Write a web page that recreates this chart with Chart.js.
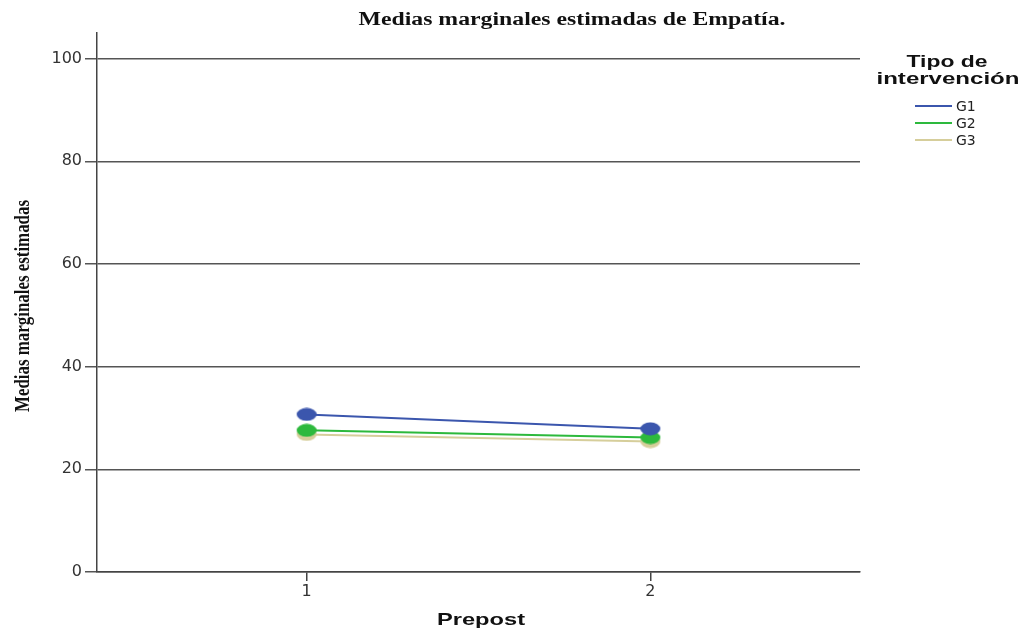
<!DOCTYPE html>
<html>
<head>
<meta charset="utf-8">
<script src="https://cdn.jsdelivr.net/npm/chart.js@4/dist/chart.umd.min.js"></script>
<style>
  html, body { margin: 0; padding: 0; background: #fff; }
  canvas { display: block; }
</style>
</head>
<body>
<canvas id="chart" width="1024" height="629"></canvas>
<script>
// data
const categories = [1, 2];
const xTickLabels = ['1', '2'];
const yTicks = [0, 20, 40, 60, 80, 100];
const seriesNames = ['G1', 'G2', 'G3'];
const g1Values = [30.7, 27.9];
const g2Values = [27.6, 26.2];
const g3Values = [26.8, 25.4];

const chartTitle = 'Medias marginales estimadas de Empatía.';
const yTitle = 'Medias marginales estimadas';
const xTitle = 'Prepost';
const legendTitle = ['Tipo de', 'intervención'];

const colors = ['#3b56ad', '#2db93d', '#d6ce9b'];

// the original points are squashed ellipses
function ellipse(color) {
    const c = document.createElement('canvas');
    c.width = 22;
    c.height = 14;
    const ctx = c.getContext('2d');
    ctx.fillStyle = color;
    ctx.beginPath();
    ctx.ellipse(11, 7, 10, 6.5, 0, 0, Math.PI * 2);
    ctx.fill();
    return c;
}

// draw text stretched to a given width
function fitText(ctx, text, cx, cy, width, font, rotate) {
    ctx.save();
    ctx.font = font;
    ctx.fillStyle = '#111';
    ctx.textAlign = 'center';
    ctx.textBaseline = 'middle';
    const w = ctx.measureText(text).width;
    ctx.translate(cx, cy);
    if (rotate) ctx.rotate(-Math.PI / 2);
    ctx.scale(width / w, 1);
    ctx.fillText(text, 0, 0);
    ctx.restore();
}

const textPlugin = {
    id: 'texts',
    afterDraw(chart) {
        const ctx = chart.ctx;
        fitText(ctx, chartTitle, 572, 20, 427, 'bold 18px "Liberation Serif"');
        fitText(ctx, yTitle, 24, 306, 212, 'bold 20px "Liberation Serif"', true);
        fitText(ctx, xTitle, 481, 620, 88, 'bold 17px "Liberation Sans"');
        fitText(ctx, legendTitle[0], 947, 62, 81, 'bold 17px "Liberation Sans"');
        fitText(ctx, legendTitle[1], 948, 79, 143, 'bold 17px "Liberation Sans"');

        // legend entries
        chart.data.datasets.forEach((ds, i) => {
            const y = 106 + i * 17;
            ctx.save();
            ctx.strokeStyle = ds.borderColor;
            ctx.lineWidth = 2;
            ctx.beginPath();
            ctx.moveTo(915, y);
            ctx.lineTo(952, y);
            ctx.stroke();
            ctx.font = '14px "DejaVu Sans"';
            ctx.fillStyle = '#222';
            ctx.textBaseline = 'middle';
            ctx.fillText(ds.label, 956, y + 1);
            ctx.restore();
        });
    }
};

const seriesValues = [g1Values, g2Values, g3Values];
const datasets = seriesNames.map((name, i) => ({
    label: name,
    data: categories.map((c, j) => ({ x: c, y: seriesValues[i][j] })),
    borderColor: colors[i],
    backgroundColor: colors[i],
    borderWidth: 2,
    pointStyle: ellipse(colors[i]),
    pointRadius: 7,
    tension: 0
}));

new Chart(document.getElementById('chart'), {
    type: 'line',
    data: { datasets: datasets },
    plugins: [textPlugin],
    options: {
        responsive: false,
        animation: false,
        layout: { padding: { left: 0, right: 164, top: 33, bottom: 0 } },
        plugins: {
            legend: { display: false },
            title: { display: false },
            tooltip: { enabled: false }
        },
        scales: {
            x: {
                type: 'linear',
                min: 0.39,
                max: 2.61,
                afterBuildTicks: (scale) => { scale.ticks = categories.map(v => ({ value: v })); },
                afterFit: (scale) => { scale.height = 57; },
                ticks: {
                    callback: (v) => xTickLabels[categories.indexOf(v)],
                    font: { family: 'DejaVu Sans', size: 16 },
                    color: '#333',
                    padding: 1,
                    maxRotation: 0
                },
                grid: { drawOnChartArea: false, drawTicks: true, tickLength: 9, color: '#444', lineWidth: 1.5 },
                border: { display: true, color: '#444', width: 1.5 }
            },
            y: {
                min: 0,
                max: 105,
                afterBuildTicks: (scale) => { scale.ticks = yTicks.map(v => ({ value: v })); },
                afterFit: (scale) => { scale.width = 97; },
                ticks: {
                    font: { family: 'DejaVu Sans', size: 16 },
                    color: '#333',
                    padding: 3
                },
                grid: { color: '#555', lineWidth: 1.5, tickLength: 12 },
                border: { display: true, color: '#444', width: 1.5 }
            }
        }
    }
});
</script>
</body>
</html>
